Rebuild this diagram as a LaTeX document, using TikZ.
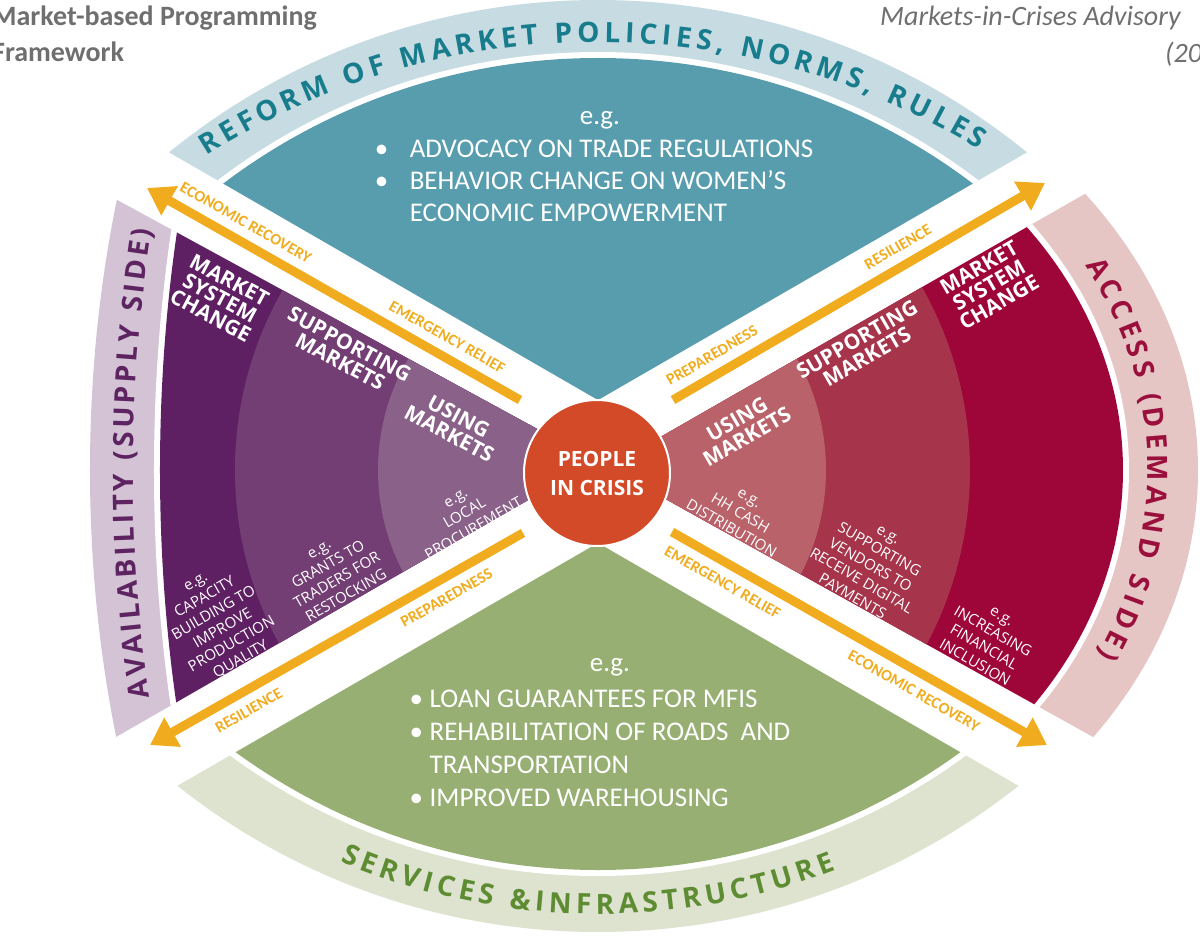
\documentclass[tikz,border=0pt]{standalone}
\usepackage{fontspec}
\setmainfont{Carlito}
\newfontfamily\opensans{Open Sans}
\usetikzlibrary{arrows.meta,positioning,decorations.text}

% colours of the four sides
\definecolor{reformband}{HTML}{C6DBE2}
\definecolor{reformfill}{HTML}{589DAE}
\definecolor{reformtext}{HTML}{177C8C}
\definecolor{servband}{HTML}{DDE3CF}
\definecolor{servfill}{HTML}{98AF74}
\definecolor{servtext}{HTML}{5E8C32}
\definecolor{availband}{HTML}{D3C3D5}
\definecolor{availtext}{HTML}{5E2462}
\definecolor{purpleA}{HTML}{5F2063}
\definecolor{purpleB}{HTML}{723E73}
\definecolor{purpleC}{HTML}{8A6189}
\definecolor{accessband}{HTML}{E6C5C5}
\definecolor{accesstext}{HTML}{9B0F3C}
\definecolor{redA}{HTML}{9E0538}
\definecolor{redB}{HTML}{A6344B}
\definecolor{redC}{HTML}{B9626A}
\definecolor{crisis}{HTML}{D24A27}
\definecolor{phasegold}{HTML}{F0AC1E}
\definecolor{titlegrey}{HTML}{6F6F6F}

\newcommand\bandfont{\opensans\bfseries\fontsize{28}{28}\selectfont}

\tikzset{
  tier/.style={text=white, align=center, inner sep=0pt,
    font=\opensans\bfseries\fontsize{21}{20}\selectfont},
  example/.style={text=white, align=center, inner sep=0pt,
    font=\opensans\fontsize{15}{18}\selectfont},
  listtext/.style={text=white, align=left, inner sep=0pt,
    font=\fontsize{27}{32}\selectfont},
  phasearrow/.style={draw=phasegold, line width=9pt},
  phaselabel/.style={text=phasegold, sloped, inner sep=0pt,
    font=\bfseries\fontsize{16}{16}\selectfont},
  band label/.style={decorate,
    decoration={text along path, text align={fit to path}}}
}

\begin{document}
\begin{tikzpicture}[x=1pt, y=1pt]
\useasboundingbox (-598,-465) rectangle (602,470);

% top: reform of market policies
\begin{scope}
  \clip (0,70) -- +(150:1000) -- +(30:1000) -- cycle;
  \fill[reformband] (0,-210) circle[radius=680pt];
  \fill[white] (0,-210) circle[radius=628pt];
  \fill[reformfill] (0,-210) circle[radius=622pt];
\end{scope}
\path[band label, decoration={text color=reformtext,
    text={|\bandfont|REFORM OF MARKET POLICIES, NORMS, RULES}}]
  ([shift={(0,-300)}]122.5:728) arc[start angle=122.5, end angle=58.5, radius=728pt];

% bottom: services and infrastructure
\begin{scope}
  \clip (0,-73) -- +(210:1000) -- +(330:1000) -- cycle;
  \fill[servband] (0,216) circle[radius=678pt];
  \fill[white] (0,216) circle[radius=622pt];
  \fill[servfill] (0,216) circle[radius=616pt];
\end{scope}
\path[band label, decoration={text color=servtext,
    text={|\bandfont|SERVICES {\&}INFRASTRUCTURE}}]
  ([shift={(0,216)}]247:660) arc[start angle=247, end angle=291.1, radius=660pt];

% left: availability, three tiers
\begin{scope}
  \clip (-2,9) -- +(151.4:700) -- +(209.9:700) -- cycle;
  \fill[availband] (0,0) ellipse[x radius=508pt, y radius=840pt];
  \fill[white] (0,0) ellipse[x radius=444pt, y radius=866pt];
  \fill[purpleA] (0,0) ellipse[x radius=438pt, y radius=860pt];
  \fill[purpleB] (0,0) circle[radius=363pt];
  \fill[purpleC] (0,0) circle[radius=220pt];
\end{scope}
\path[band label, decoration={text color=availtext,
    text={|\bandfont|AVAILABILITY (SUPPLY SIDE)}}]
  (195.5:465 and 850) arc[start angle=195.5, end angle=163.6, x radius=465pt, y radius=850pt];

% right: access, three tiers
\begin{scope}
  \clip (10,3) -- +(29.8:800) -- +(-29.1:800) -- cycle;
  \fill[accessband] (0,0) ellipse[x radius=600pt, y radius=473pt];
  \fill[white] (0,0) ellipse[x radius=531pt, y radius=427pt];
  \fill[redA] (0,0) ellipse[x radius=525pt, y radius=421pt];
  \fill[redB] (0,0) circle[radius=372pt];
  \fill[redC] (0,0) circle[radius=228pt];
\end{scope}
\path[band label, decoration={text color=accesstext,
    text={|\bandfont|ACCESS (DEMAND SIDE)}}]
  (27.6:550 and 442) arc[start angle=27.6, end angle=-24.7, x radius=550pt, y radius=442pt];

% examples in the top and bottom sectors
\node[listtext] (reform-eg) at (2,350) {e.g.};
\node[listtext, below=11pt of reform-eg, xshift=-6pt] (reform-list)
  {\makebox[35pt][l]{\textbullet}ADVOCACY ON TRADE REGULATIONS\\
   \makebox[35pt][l]{\textbullet}BEHAVIOR CHANGE ON WOMEN'S\\
   \hspace*{35pt}ECONOMIC EMPOWERMENT};
\node[listtext] (serv-eg) at (12,-197) {e.g.};
\node[listtext, font=\fontsize{27}{33}\selectfont, below=14pt of serv-eg, xshift=-10pt] (serv-list)
  {\makebox[20pt][l]{\textbullet}LOAN GUARANTEES FOR MFIS\\
   \makebox[20pt][l]{\textbullet}REHABILITATION OF ROADS\ \ AND\\
   \hspace*{20pt}TRANSPORTATION\\
   \makebox[20pt][l]{\textbullet}IMPROVED WAREHOUSING};

% tiers, supply side
\node[tier, rotate=-28] (l-msc) at (-378,172) {MARKET\\SYSTEM\\CHANGE};
\node[tier, rotate=-28] (l-sm) at (-253,117) {SUPPORTING\\MARKETS};
\node[tier, rotate=-28] (l-um) at (-144,45) {USING\\MARKETS};
\node[example, rotate=30] (l-um-eg) at (-133,-44) {e.g.\\LOCAL\\PROCUREMENT};
\node[example, rotate=30] (l-sm-eg) at (-265,-103) {e.g.\\GRANTS TO\\TRADERS FOR\\RESTOCKING};
\node[example, rotate=30] (l-msc-eg) at (-379,-152)
  {e.g.\\CAPACITY\\BUILDING TO\\IMPROVE\\PRODUCTION\\QUALITY};

% tiers, demand side
\node[tier, rotate=30] (r-um) at (144,42) {USING\\MARKETS};
\node[tier, rotate=30] (r-sm) at (264,122) {SUPPORTING\\MARKETS};
\node[tier, rotate=30] (r-msc) at (391,185) {MARKET\\SYSTEM\\CHANGE};
\node[example, rotate=-30] (r-um-eg) at (142,-44) {e.g.\\HH CASH\\DISTRIBUTION};
\node[example, rotate=-30] (r-sm-eg) at (272,-96)
  {e.g.\\SUPPORTING\\VENDORS TO\\RECEIVE DIGITAL\\PAYMENTS};
\node[example, rotate=-30] (r-msc-eg) at (390,-170) {e.g.\\INCREASING\\FINANCIAL\\INCLUSION};

% phase arrows in the gaps
\coordinate (ul-tip) at (-451,282);
\coordinate (ul-end) at (-78,70);
\coordinate (ur-end) at (75,70);
\coordinate (ur-tip) at (447,287);
\coordinate (ll-tip) at (-448,-275);
\coordinate (ll-end) at (-75,-63);
\coordinate (lr-end) at (74,-62);
\coordinate (lr-tip) at (449,-275);

\draw[phasearrow, {Triangle[width=32pt,length=26pt]}-] (ul-tip) -- (ul-end)
  node[phaselabel, pos=.24, above=9pt] {ECONOMIC RECOVERY}
  node[phaselabel, pos=.78, above=9pt] {EMERGENCY RELIEF};
\draw[phasearrow, -{Triangle[width=32pt,length=26pt]}] (ur-end) -- (ur-tip)
  node[phaselabel, pos=.13, above=9pt] {PREPAREDNESS}
  node[phaselabel, pos=.63, above=9pt] {RESILIENCE};
\draw[phasearrow, {Triangle[width=32pt,length=26pt]}-] (ll-tip) -- (ll-end)
  node[phaselabel, pos=.24, below=9pt] {RESILIENCE}
  node[phaselabel, pos=.77, below=9pt] {PREPAREDNESS};
\draw[phasearrow, -{Triangle[width=32pt,length=26pt]}] (lr-end) -- (lr-tip)
  node[phaselabel, pos=.16, below=9pt] {EMERGENCY RELIEF}
  node[phaselabel, pos=.67, below=9pt] {ECONOMIC RECOVERY};

% centre
\node[circle, fill=crisis, draw=white, line width=2pt, minimum size=146pt,
  inner sep=0pt, text=white, align=center,
  font=\opensans\bfseries\fontsize{21}{29}\selectfont] (people) at (-1,-3) {PEOPLE\\IN CRISIS};

% headings
\node[anchor=north west, align=left, inner sep=0pt, text=titlegrey,
  font=\bfseries\fontsize{28}{36}\selectfont] (title) at (-606,464)
  {Market-based Programming\\Framework};
\node[anchor=north west, inner sep=0pt, text=titlegrey,
  font=\itshape\fontsize{28}{36}\selectfont] (source) at (282,464) {Markets-in-Crises Advisory};
\node[anchor=north west, inner sep=0pt, text=titlegrey,
  font=\itshape\fontsize{28}{36}\selectfont] (year) at (567,428) {(20};
\end{tikzpicture}
\end{document}
